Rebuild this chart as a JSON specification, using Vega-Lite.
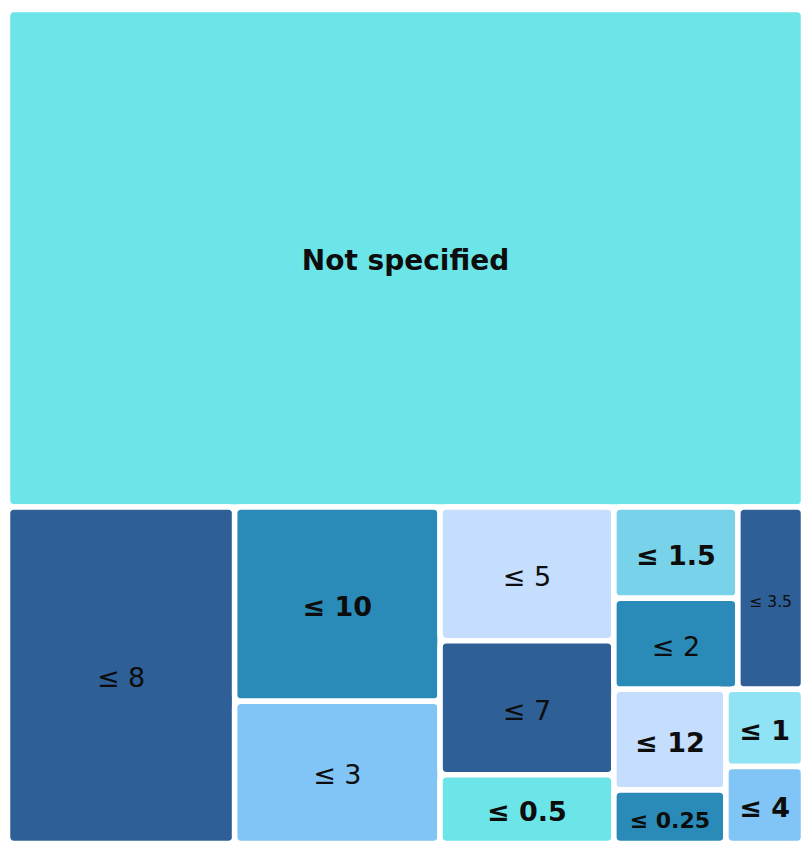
{
  "$schema": "https://vega.github.io/schema/vega-lite/v6.json",
  "width": 796,
  "height": 834,
  "autosize": {"type": "none"},
  "padding": {"left": 7.5, "top": 9.5, "right": 5.5, "bottom": 0},
  "background": "white",
  "config": {"view": {"stroke": null}},
  "data": {
    "values": [
      {"label": "Not specified", "value": 596, "g1": "A", "g2": "A", "g3": "A", "g4": "A"},
      {"label": "≤ 8", "value": 115, "g1": "B", "g2": "C1", "g3": "C1", "g4": "C1"},
      {"label": "≤ 10", "value": 60, "g1": "B", "g2": "C2", "g3": "L10", "g4": "L10"},
      {"label": "≤ 3", "value": 44, "g1": "B", "g2": "C2", "g3": "L3", "g4": "L3"},
      {"label": "≤ 5", "value": 35, "g1": "B", "g2": "C3", "g3": "L5", "g4": "L5"},
      {"label": "≤ 7", "value": 35, "g1": "B", "g2": "C3", "g3": "L7", "g4": "L7"},
      {"label": "≤ 0.5", "value": 18, "g1": "B", "g2": "C3", "g3": "L05", "g4": "L05"},
      {"label": "≤ 1.5", "value": 17, "g1": "B", "g2": "C4", "g3": "C4a", "g4": "P"},
      {"label": "≤ 2", "value": 17, "g1": "B", "g2": "C4", "g3": "C4a", "g4": "P"},
      {"label": "≤ 3.5", "value": 18, "g1": "B", "g2": "C4", "g3": "C4a", "g4": "L35"},
      {"label": "≤ 12", "value": 17, "g1": "B", "g2": "C4", "g3": "C4b", "g4": "Q"},
      {"label": "≤ 0.25", "value": 9, "g1": "B", "g2": "C4", "g3": "C4b", "g4": "Q"},
      {"label": "≤ 1", "value": 9, "g1": "B", "g2": "C4", "g3": "C4b", "g4": "R"},
      {"label": "≤ 4", "value": 9, "g1": "B", "g2": "C4", "g3": "C4b", "g4": "R"}
    ]
  },
  "transform": [
    {"window": [{"op": "row_number", "as": "idx"}]},
    {"calculate": "'all'", "as": "g0"},
    {"stack": "value", "groupby": ["g0"], "sort": [{"field": "idx", "order": "ascending"}], "as": ["s1", "e1"]},
    {"joinaggregate": [{"op": "min", "field": "s1", "as": "c0_1"}, {"op": "max", "field": "e1", "as": "c1_1"}], "groupby": ["g1"]},
    {"joinaggregate": [{"op": "sum", "field": "value", "as": "p1"}], "groupby": ["g0"]},
    {"stack": "value", "groupby": ["g1"], "sort": [{"field": "idx", "order": "ascending"}], "as": ["s2", "e2"]},
    {"joinaggregate": [{"op": "min", "field": "s2", "as": "c0_2"}, {"op": "max", "field": "e2", "as": "c1_2"}], "groupby": ["g2"]},
    {"joinaggregate": [{"op": "sum", "field": "value", "as": "p2"}], "groupby": ["g1"]},
    {"stack": "value", "groupby": ["g2"], "sort": [{"field": "idx", "order": "ascending"}], "as": ["s3", "e3"]},
    {"joinaggregate": [{"op": "min", "field": "s3", "as": "c0_3"}, {"op": "max", "field": "e3", "as": "c1_3"}], "groupby": ["g3"]},
    {"joinaggregate": [{"op": "sum", "field": "value", "as": "p3"}], "groupby": ["g2"]},
    {"stack": "value", "groupby": ["g3"], "sort": [{"field": "idx", "order": "ascending"}], "as": ["s4", "e4"]},
    {"joinaggregate": [{"op": "min", "field": "s4", "as": "c0_4"}, {"op": "max", "field": "e4", "as": "c1_4"}], "groupby": ["g4"]},
    {"joinaggregate": [{"op": "sum", "field": "value", "as": "p4"}], "groupby": ["g3"]},
    {"stack": "value", "groupby": ["g4"], "sort": [{"field": "idx", "order": "ascending"}], "as": ["s5", "e5"]},
    {"joinaggregate": [{"op": "sum", "field": "value", "as": "p5"}], "groupby": ["g4"]},
    {"calculate": "datum.c0_1 / datum.p1", "as": "ya"},
    {"calculate": "datum.c1_1 / datum.p1", "as": "yb"},
    {"calculate": "datum.c0_2 / datum.p2", "as": "xa"},
    {"calculate": "datum.c1_2 / datum.p2", "as": "xb"},
    {"calculate": "datum.ya + (datum.yb - datum.ya) * datum.c0_3 / datum.p3", "as": "ya3"},
    {"calculate": "datum.ya + (datum.yb - datum.ya) * datum.c1_3 / datum.p3", "as": "yb3"},
    {"calculate": "datum.xa + (datum.xb - datum.xa) * datum.c0_4 / datum.p4", "as": "xa4"},
    {"calculate": "datum.xa + (datum.xb - datum.xa) * datum.c1_4 / datum.p4", "as": "xb4"},
    {"calculate": "datum.ya3 + (datum.yb3 - datum.ya3) * datum.s5 / datum.p5", "as": "ya5"},
    {"calculate": "datum.ya3 + (datum.yb3 - datum.ya3) * datum.e5 / datum.p5", "as": "yb5"},
    {"calculate": "(datum.xa4 + datum.xb4) / 2", "as": "cx"},
    {"calculate": "(datum.ya5 + datum.yb5) / 2", "as": "cy"},
    {"calculate": "datum.label == 'Not specified' ? 28 : min(27, 1.18 * (datum.xb4 - datum.xa4) * 796 / length(datum.label))", "as": "fs"}
  ],
  "layer": [
    {
      "mark": {"type": "rect", "stroke": "white", "strokeWidth": 5.5, "cornerRadius": 6.5},
      "encoding": {
        "x": {"field": "xa4", "type": "quantitative", "scale": {"domain": [0, 1], "nice": false, "zero": false}, "axis": null},
        "x2": {"field": "xb4"},
        "y": {"field": "ya5", "type": "quantitative", "scale": {"domain": [1, 0], "nice": false, "zero": false}, "axis": null},
        "y2": {"field": "yb5"},
        "color": {
          "field": "label",
          "type": "nominal",
          "legend": null,
          "scale": {
            "domain": ["Not specified", "≤ 8", "≤ 10", "≤ 3", "≤ 5", "≤ 7", "≤ 0.5", "≤ 1.5", "≤ 2", "≤ 3.5", "≤ 12", "≤ 0.25", "≤ 1", "≤ 4"],
            "range": ["#6be5e8", "#2e5f97", "#2b8bb8", "#80c5f5", "#c6defd", "#2e5f97", "#6be5e8", "#78d3ea", "#2b8bb8", "#2e5f97", "#c6defd", "#2b8bb8", "#90e2f5", "#80c5f5"]
          }
        }
      }
    },
    {
      "transform": [{"filter": {"field": "label", "oneOf": ["Not specified", "≤ 10", "≤ 0.5", "≤ 1.5", "≤ 12", "≤ 0.25", "≤ 1", "≤ 4"]}}],
      "mark": {"type": "text", "align": "center", "baseline": "middle", "dy": 4, "font": "DejaVu Sans", "fontWeight": "bold", "color": "#0d0d0d"},
      "encoding": {
        "x": {"field": "cx", "type": "quantitative"},
        "y": {"field": "cy", "type": "quantitative"},
        "size": {"field": "fs", "type": "quantitative", "scale": null, "legend": null},
        "text": {"field": "label"}
      }
    },
    {
      "transform": [{"filter": {"field": "label", "oneOf": ["≤ 8", "≤ 3", "≤ 5", "≤ 7", "≤ 2", "≤ 3.5"]}}],
      "mark": {"type": "text", "align": "center", "baseline": "middle", "dy": 4, "font": "DejaVu Sans", "fontWeight": "normal", "color": "#0d0d0d"},
      "encoding": {
        "x": {"field": "cx", "type": "quantitative"},
        "y": {"field": "cy", "type": "quantitative"},
        "size": {"field": "fs", "type": "quantitative", "scale": null, "legend": null},
        "text": {"field": "label"}
      }
    }
  ]
}
